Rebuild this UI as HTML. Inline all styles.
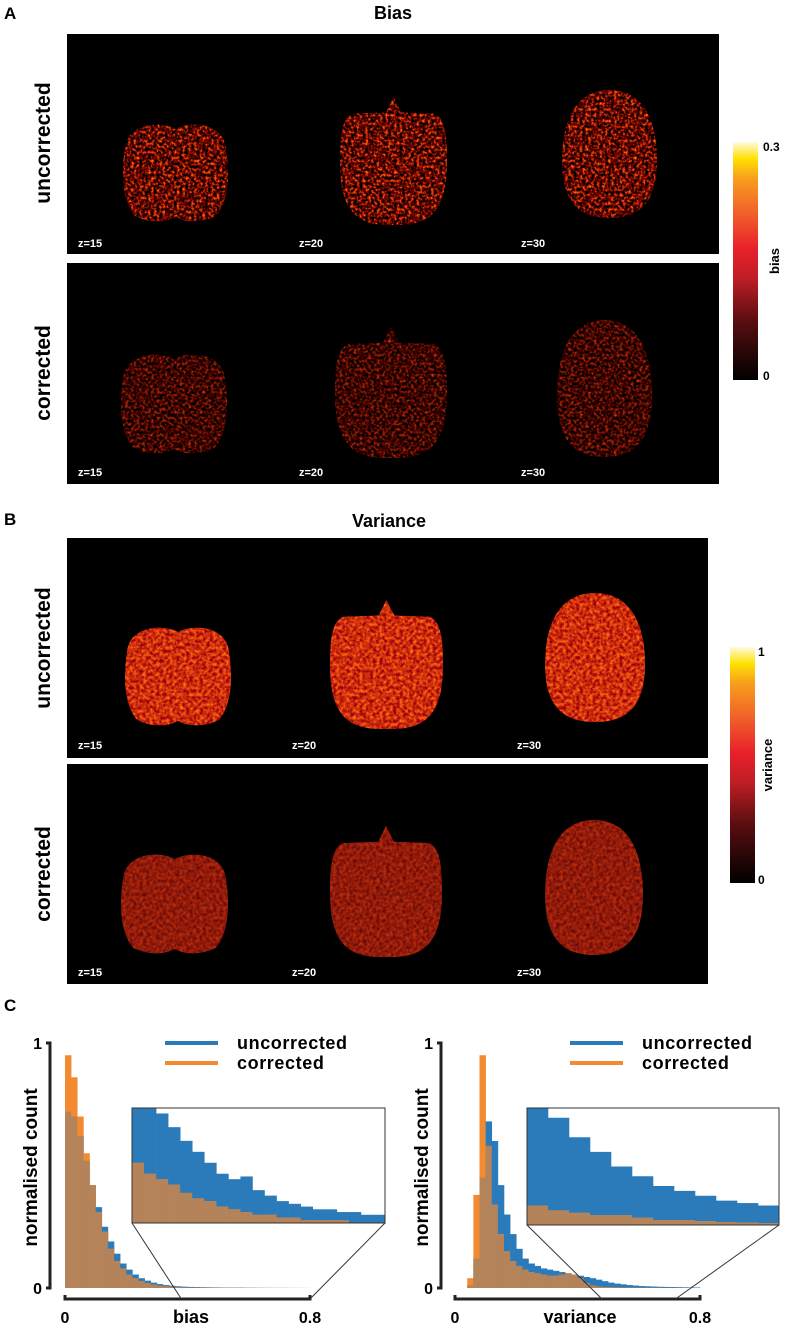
<!DOCTYPE html>
<html><head><meta charset="utf-8"><style>
html,body{margin:0;padding:0;background:#fff;}
svg{display:block;font-family:"Liberation Sans",sans-serif;}
</style></head><body>
<svg id="fig" width="787" height="1329" viewBox="0 0 787 1329" xmlns="http://www.w3.org/2000/svg">
<defs>
<linearGradient id="cmap" x1="0" y1="1" x2="0" y2="0">
<stop offset="0" stop-color="#000"/><stop offset="0.25" stop-color="#5a0e10"/><stop offset="0.43" stop-color="#c01e26"/><stop offset="0.55" stop-color="#e8202a"/><stop offset="0.7" stop-color="#f0602a"/><stop offset="0.85" stop-color="#f8a01c"/><stop offset="0.93" stop-color="#ffe200"/><stop offset="1" stop-color="#fffbe0"/>
</linearGradient>
<filter id="fBiasU" x="0" y="0" width="1" height="1" color-interpolation-filters="sRGB"><feTurbulence type="fractalNoise" baseFrequency="0.35" numOctaves="2" seed="3"/><feColorMatrix type="matrix" values="2.4 0 0 0 -0.8  1.3 0 0 0 -0.66  0 0 0 0 0  0 0 0 0 1"/><feComposite in2="SourceGraphic" operator="in"/></filter>
<filter id="fBiasC" x="0" y="0" width="1" height="1" color-interpolation-filters="sRGB"><feTurbulence type="fractalNoise" baseFrequency="0.35" numOctaves="2" seed="7"/><feColorMatrix type="matrix" values="1.6 0 0 0 -0.55  0.6 0 0 0 -0.3  0 0 0 0 0  0 0 0 0 1"/><feComposite in2="SourceGraphic" operator="in"/></filter>
<filter id="fVarU" x="0" y="0" width="1" height="1" color-interpolation-filters="sRGB"><feTurbulence type="fractalNoise" baseFrequency="0.3" numOctaves="2" seed="5"/><feColorMatrix type="matrix" values="0.9 0 0 0 0.35  0.8 0 0 0 -0.22  0 0 0 0 0.05  0 0 0 0 1"/><feComposite in2="SourceGraphic" operator="in"/></filter>
<filter id="fVarC" x="0" y="0" width="1" height="1" color-interpolation-filters="sRGB"><feTurbulence type="fractalNoise" baseFrequency="0.3" numOctaves="2" seed="9"/><feColorMatrix type="matrix" values="0.6 0 0 0 0.27  0.25 0 0 0 -0.02  0 0 0 0 0.04  0 0 0 0 1"/><feComposite in2="SourceGraphic" operator="in"/></filter>
</defs>

<text x="4" y="19" font-size="17" font-weight="bold">A</text>
<text x="393" y="19" font-size="18" font-weight="bold" text-anchor="middle">Bias</text>
<rect x="67" y="34" width="652" height="220" fill="#000"/>
<rect x="67" y="263" width="652" height="221" fill="#000"/>
<text transform="translate(50,143) rotate(-90)" font-size="21" font-weight="bold" text-anchor="middle">uncorrected</text>
<text transform="translate(50,373) rotate(-90)" font-size="21" font-weight="bold" text-anchor="middle">corrected</text>
<rect x="733" y="142" width="25" height="238" fill="url(#cmap)"/>
<text x="763" y="151" font-size="12" font-weight="bold">0.3</text>
<text x="763" y="380" font-size="12" font-weight="bold">0</text>
<text transform="translate(779,261) rotate(-90)" font-size="13" font-weight="bold" text-anchor="middle">bias</text>

<text x="4" y="525" font-size="17" font-weight="bold">B</text>
<text x="389" y="527" font-size="18" font-weight="bold" text-anchor="middle">Variance</text>
<rect x="67" y="538" width="641" height="220" fill="#000"/>
<rect x="67" y="764" width="641" height="220" fill="#000"/>
<text transform="translate(50,648) rotate(-90)" font-size="21" font-weight="bold" text-anchor="middle">uncorrected</text>
<text transform="translate(50,874) rotate(-90)" font-size="21" font-weight="bold" text-anchor="middle">corrected</text>
<rect x="730" y="647" width="25" height="236" fill="url(#cmap)"/>
<text x="758" y="656" font-size="12" font-weight="bold">1</text>
<text x="758" y="884" font-size="12" font-weight="bold">0</text>
<text transform="translate(772,765) rotate(-90)" font-size="13" font-weight="bold" text-anchor="middle">variance</text>

<g id="brains"></g>

<text x="4" y="1011" font-size="17" font-weight="bold">C</text>
<g id="hists"></g>
</svg>
<script>
const NS="http://www.w3.org/2000/svg";
const brainsG=document.getElementById('brains');
function brainPath(t,x0,x1,y0,y1){
  const w=x1-x0,h=y1-y0,cx=(x0+x1)/2;
  if(t==='a'){
    return `M${cx},${y0+0.07*h} C${cx-0.12*w},${y0-0.01*h} ${x0+0.06*w},${y0} ${x0+0.03*w},${y0+0.25*h} C${x0-0.01*w},${y0+0.5*h} ${x0},${y0+0.78*h} ${x0+0.12*w},${y0+0.93*h} C${x0+0.25*w},${y1} ${cx-0.1*w},${y1} ${cx},${y1-0.06*h} C${cx+0.1*w},${y1} ${x1-0.25*w},${y1} ${x1-0.12*w},${y0+0.93*h} C${x1},${y0+0.78*h} ${x1+0.01*w},${y0+0.5*h} ${x1-0.03*w},${y0+0.25*h} C${x1-0.06*w},${y0} ${cx+0.12*w},${y0-0.01*h} ${cx},${y0+0.07*h}Z`;
  }
  if(t==='b'){
    return `M${cx},${y0} L${cx+0.07*w},${y0+0.12*h} L${x1-0.12*w},${y0+0.13*h} C${x1-0.02*w},${y0+0.16*h} ${x1},${y0+0.3*h} ${x1},${y0+0.5*h} C${x1},${y0+0.85*h} ${x1-0.12*w},${y1} ${cx+0.05*w},${y1} L${cx-0.05*w},${y1} C${x0+0.12*w},${y1} ${x0},${y0+0.85*h} ${x0},${y0+0.5*h} C${x0},${y0+0.3*h} ${x0+0.02*w},${y0+0.16*h} ${x0+0.12*w},${y0+0.13*h} L${cx-0.07*w},${y0+0.12*h}Z`;
  }
  return `M${cx},${y0} C${x1-0.1*w},${y0} ${x1},${y0+0.3*h} ${x1},${y0+0.55*h} C${x1},${y0+0.85*h} ${x1-0.15*w},${y1} ${cx},${y1} C${x0+0.15*w},${y1} ${x0},${y0+0.85*h} ${x0},${y0+0.55*h} C${x0},${y0+0.3*h} ${x0+0.1*w},${y0} ${cx},${y0}Z`;
}
const slices=[
 ['fBiasU','a',122,229,122,223,'bias-uncorrected-z15'],['fBiasU','b',340,447,97,225,'bias-uncorrected-z20'],['fBiasU','c',562,657,90,218,'bias-uncorrected-z30'],
 ['fBiasC','a',120,228,352,455,'bias-corrected-z15'],['fBiasC','b',335,447,327,458,'bias-corrected-z20'],['fBiasC','c',557,652,320,457,'bias-corrected-z30'],
 ['fVarU','a',124,232,625,727,'variance-uncorrected-z15'],['fVarU','b',330,443,600,729,'variance-uncorrected-z20'],['fVarU','c',545,645,593,722,'variance-uncorrected-z30'],
 ['fVarC','a',120,229,852,955,'variance-corrected-z15'],['fVarC','b',330,442,826,957,'variance-corrected-z20'],['fVarC','c',545,643,820,955,'variance-corrected-z30']
];
slices.forEach(s=>{
  const p=document.createElementNS(NS,'path');
  p.setAttribute('d',brainPath(s[1],s[2],s[3],s[4],s[5]));
  p.setAttribute('fill','#fff');p.setAttribute('filter','url(#'+s[0]+')');
  
  
  brainsG.appendChild(p);
});
const zl=[[78,247],[299,247],[521,247],[78,476],[299,476],[521,476],[78,749],[292,749],[517,749],[78,976],[292,976],[517,976]];
const zt=['z=15','z=20','z=30'];
zl.forEach((q,i)=>{
  const t=document.createElementNS(NS,'text');
  t.setAttribute('x',q[0]);t.setAttribute('y',q[1]);t.setAttribute('fill','#fff');
  t.setAttribute('font-size','11');t.setAttribute('font-weight','bold');
  t.textContent=zt[i%3];
  
  
  brainsG.appendChild(t);
});

const binWidth=0.02;
const biasUncorrected=[0.72,0.70,0.62,0.52,0.42,0.33,0.25,0.19,0.14,0.10,0.075,0.055,0.04,0.03,0.022,0.016,0.012,0.009,0.007,0.0055,0.0045,0.004,0.0035,0.003,0.0026,0.0022,0.0018,0.0016,0.0017,0.0012,0.001,0.0008,0.0007,0.0006,0.0005,0.0005,0.0004,0.0004,0.0003,0.0003];
const biasCorrected=[0.95,0.86,0.70,0.55,0.42,0.31,0.23,0.16,0.11,0.08,0.055,0.04,0.028,0.02,0.014,0.01,0.007,0.005,0.003,0.0022,0.0018,0.0016,0.0014,0.0011,0.0009,0.0008,0.0006,0.0005,0.0004,0.0003,0.0003,0.0002,0.0002,0.0001,0.0001,0.0001,0.0001,0,0,0];
const varUncorrected=[0,0,0.01,0.12,0.45,0.68,0.60,0.42,0.30,0.22,0.16,0.12,0.10,0.09,0.08,0.075,0.07,0.065,0.06,0.055,0.05,0.045,0.04,0.034,0.028,0.022,0.018,0.015,0.012,0.010,0.008,0.007,0.006,0.005,0.0045,0.004,0.0035,0.003,0.0025,0.002];
const varCorrected=[0,0,0.04,0.38,0.95,0.58,0.34,0.22,0.15,0.11,0.09,0.075,0.065,0.06,0.055,0.05,0.05,0.055,0.06,0.055,0.04,0.02,0.01,0.006,0.004,0.003,0.0025,0.002,0.002,0.0015,0.001,0.001,0.0008,0.0006,0.0005,0.0004,0.0003,0.0002,0.0001,0];
const xTickLabels=['0','0.8'];
const yTickLabels=['0','1'];
const legendLabels=['uncorrected','corrected'];

const hg=document.getElementById('hists');
const BLUE='#2b7bba',ORANGE='#f28a30',MIX='#b5835a';
function el(tag,attrs,parent){const e=document.createElementNS(NS,tag);for(const k in attrs)e.setAttribute(k,attrs[k]);(parent||hg).appendChild(e);return e;}

function drawHist(cfg){
  const g=el('g',{});
  
  
  const xs=v=>cfg.x0+(v/0.8)*(cfg.x1-cfg.x0);
  const ys=v=>cfg.yb-v*(cfg.yb-cfg.yt);
  cfg.blue.forEach((b,i)=>{
    const o=cfg.orange[i], m=Math.min(b,o);
    const xa=xs(i*binWidth), w=xs((i+1)*binWidth)-xa;
    [[b,BLUE,'bar-uncorrected'],[o,ORANGE,'bar-corrected'],[m,MIX,'bar-overlap']].forEach(([v,c,n])=>{
      if(v<=0)return;
      const r=el('rect',{x:xa,y:ys(v),width:w+0.3,height:cfg.yb-ys(v),fill:c},g);
      
      
    });
  });
  const ya=el('path',{d:`M${cfg.ax-4},${cfg.yt} H${cfg.ax} V${cfg.yb} H${cfg.ax-4}`,stroke:'#222','stroke-width':3,fill:'none'},g);
  
  
  const xa=el('path',{d:`M${cfg.x0},${cfg.xy-4} V${cfg.xy} H${cfg.x1} V${cfg.xy-4}`,stroke:'#222','stroke-width':3,fill:'none'},g);
  
  
  [[cfg.yt,yTickLabels[1]],[cfg.yb,yTickLabels[0]]].forEach(([y,l])=>{
    const t=el('text',{x:cfg.ax-8,y:y+6,'font-size':16,'font-weight':'bold','text-anchor':'end'},g);t.textContent=l;
    
    
  });
  [[cfg.x0,xTickLabels[0]],[cfg.x1,xTickLabels[1]]].forEach(([x,l])=>{
    const t=el('text',{x:x,y:cfg.xy+24,'font-size':16,'font-weight':'bold','text-anchor':'middle'},g);t.textContent=l;
    
    
  });
  const xt=el('text',{x:cfg.xlabX,y:cfg.xy+24,'font-size':18,'font-weight':'bold','text-anchor':'middle'},g);xt.textContent=cfg.xlabel;
  
  
  const yt=el('text',{transform:`translate(${cfg.ax-13},${(cfg.yt+cfg.yb)/2+2}) rotate(-90)`,'font-size':19,'font-weight':'bold','text-anchor':'middle'},g);yt.textContent='normalised count';
  
  
  [[BLUE,0],[ORANGE,1]].forEach(([c,i])=>{
    const ln=el('line',{x1:cfg.legX,x2:cfg.legX+53,y1:cfg.legY+i*20,y2:cfg.legY+i*20,stroke:c,'stroke-width':4},g);
    
    
    const t=el('text',{x:cfg.legX+72,y:cfg.legY+i*20+6,'font-size':18,'font-weight':'bold','letter-spacing':'0.6'},g);t.textContent=legendLabels[i];
    
    
  });
  const ix0=cfg.inset[0],iy0=cfg.inset[1],ix1=cfg.inset[2],iy1=cfg.inset[3];
  const ig=el('g',{},g);
  
  
  el('rect',{x:ix0,y:iy0,width:ix1-ix0,height:iy1-iy0,fill:'#fff'},ig);
  const nb=cfg.insetTo-cfg.insetFrom, bw=(ix1-ix0)/nb;
  const iys=v=>iy1-Math.min(v/cfg.insetMax,1)*(iy1-iy0);
  for(let k=0;k<nb;k++){
    const i=cfg.insetFrom+k,b=cfg.blue[i],o=cfg.orange[i],m=Math.min(b,o);
    [[b,BLUE,'inset-bar-uncorrected'],[o,ORANGE,'inset-bar-corrected'],[m,MIX,'inset-bar-overlap']].forEach(([v,c,n])=>{
      if(v<=0)return;
      const r=el('rect',{x:ix0+k*bw,y:iys(v),width:bw+0.3,height:iy1-iys(v),fill:c},ig);
      
      
    });
  }
  el('rect',{x:ix0,y:iy0,width:ix1-ix0,height:iy1-iy0,fill:'none',stroke:'#333','stroke-width':1},ig);
  el('line',{x1:ix0,y1:iy1,x2:xs(cfg.insetFrom*binWidth),y2:cfg.xy,stroke:'#333','stroke-width':1},ig);
  el('line',{x1:ix1,y1:iy1,x2:xs(cfg.insetTo*binWidth),y2:cfg.xy,stroke:'#333','stroke-width':1},ig);
}
drawHist({name:'bias-histogram',blue:biasUncorrected,orange:biasCorrected,x0:65,x1:310,yt:1043,yb:1288,ax:50,xy:1299,xlabel:'bias',xlabX:191,legX:165,legY:1043,inset:[132,1108,385,1223],insetFrom:19,insetTo:40,insetMax:0.0042});
drawHist({name:'variance-histogram',blue:varUncorrected,orange:varCorrected,x0:455,x1:700,yt:1043,yb:1288,ax:441,xy:1299,xlabel:'variance',xlabX:580,legX:570,legY:1043,inset:[527,1108,779,1225],insetFrom:24,insetTo:36,insetMax:0.024});
</script>
</body></html>
